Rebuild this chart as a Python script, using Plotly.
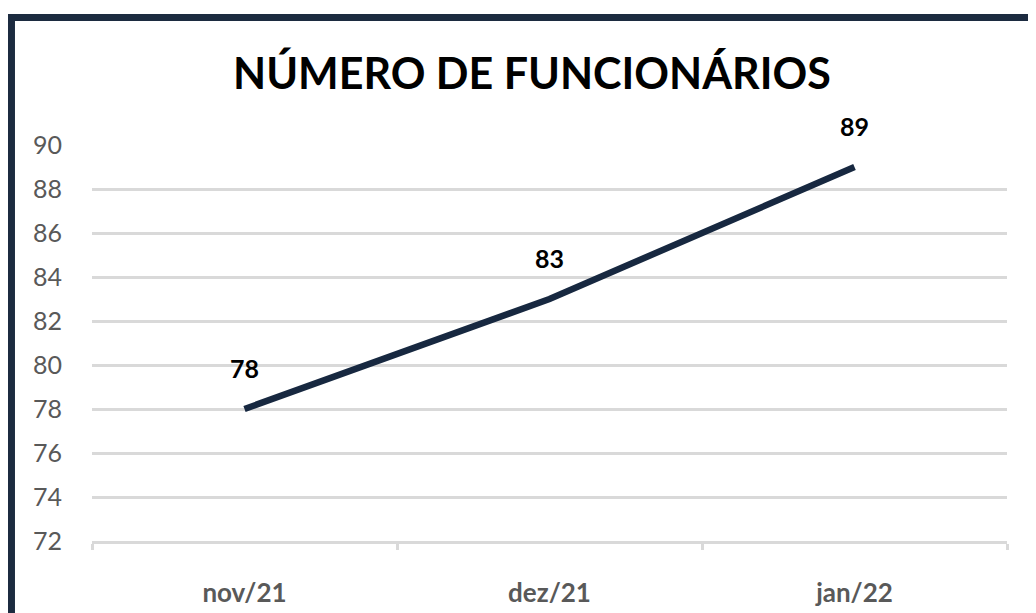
import plotly.graph_objects as go

# data
meses = ["nov/21", "dez/21", "jan/22"]
funcionarios = [78, 83, 89]
y_ticks = [72, 74, 76, 78, 80, 82, 84, 86, 88, 90]

navy = "#172840"
grid = "#d9d9d9"
font = "Lato"

fig = go.Figure()
fig.add_trace(go.Scatter(x=meses, y=funcionarios, mode="lines",
                         line=dict(color=navy, width=6.5),
                         hoverinfo="skip", showlegend=False))

# data labels above the points
for m, v in zip(meses, funcionarios):
    fig.add_annotation(x=m, y=v, text="<b>%d</b>" % v, showarrow=False,
                       yshift=41, font=dict(family=font, size=25, color="#000000"))

# title
fig.add_annotation(text="<b>NÚMERO DE FUNCIONÁRIOS</b>", xref="paper", yref="paper",
                   x=0.481, y=1.182, showarrow=False, xanchor="center", yanchor="middle",
                   font=dict(family=font, size=43, color="#000000"))

# dark frame around the chart
fig.add_shape(type="rect", xref="paper", yref="paper",
              x0=-0.088, y0=-0.4, x1=1.2, y1=1.322,
              line=dict(color="#1c2b40", width=7), layer="above")

fig.update_layout(
    width=1036, height=613,
    margin=dict(l=84, r=37, t=137, b=80),
    paper_bgcolor="white", plot_bgcolor="white",
    xaxis=dict(type="category", range=[-0.5, 2.5], showgrid=False,
               showline=True, linecolor=grid, linewidth=2.5,
               ticks="outside", tickson="boundaries", ticklen=6, tickcolor=grid, tickwidth=2.5,
               tickfont=dict(family=font, size=26, color="#595959", weight="bold"),
               ticklabelstandoff=27),
    yaxis=dict(range=[72, 90], tickvals=y_ticks, showgrid=True, gridcolor=grid, gridwidth=2.5,
               zeroline=False, showline=False,
               tickfont=dict(family=font, size=25, color="#595959"),
               ticklabelstandoff=29),
)

fig.write_html("out.html")
